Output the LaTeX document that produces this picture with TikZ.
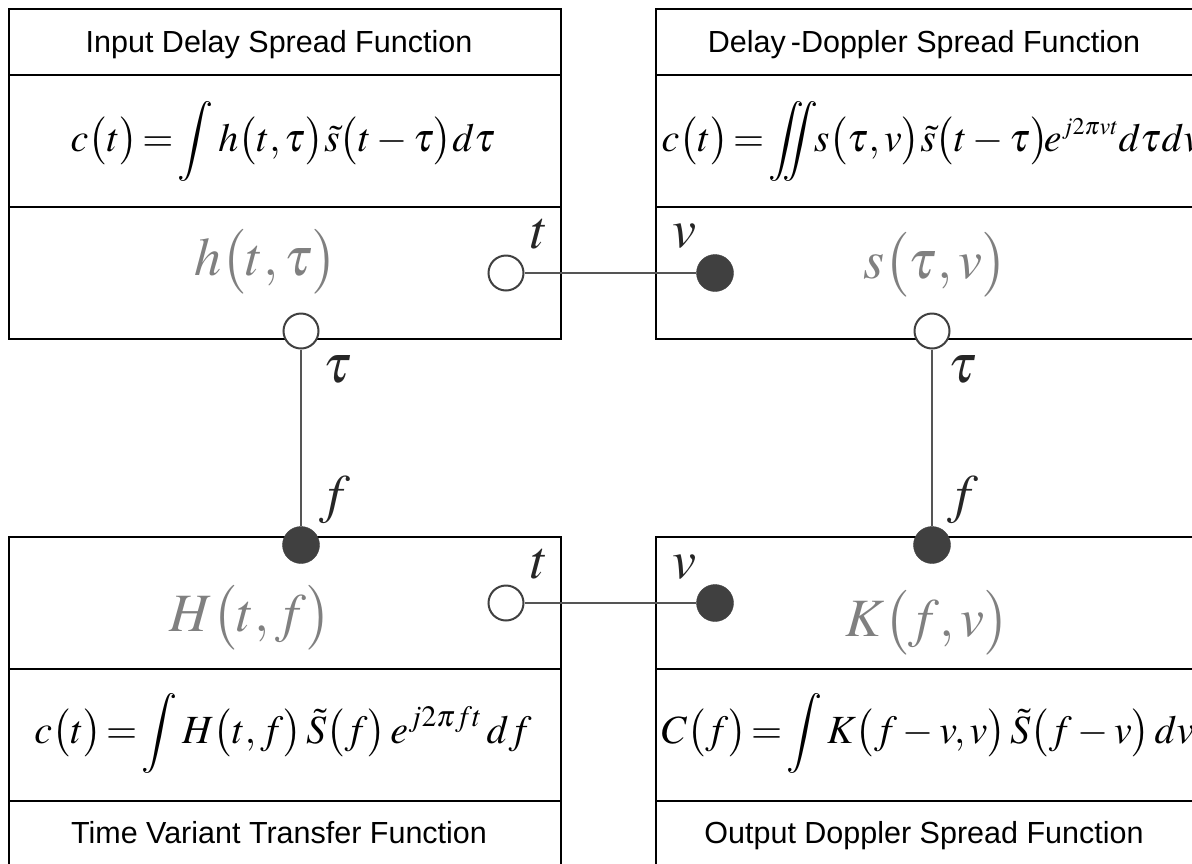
\documentclass[tikz,border=0pt]{standalone}
\usepackage{mathptmx}
\usepackage{amsmath}
\usepackage[no-math]{fontspec}
\setmainfont{Liberation Sans}

\definecolor{portgray}{HTML}{404040}
\definecolor{linkgray}{HTML}{555555}
\definecolor{labelgray}{HTML}{808080}

% tight equals sign as in the formulas
\newcommand{\eqs}{\mathrel{\!=\!}}

\begin{document}
\begin{tikzpicture}[x=1pt, y=-1pt,
  box/.style={draw=black, line width=2.2pt},
  openport/.style={circle, draw=portgray, line width=2pt, fill=white, minimum size=35pt, inner sep=0pt},
  fullport/.style={circle, draw=portgray, fill=portgray, minimum size=37pt, inner sep=0pt},
  link/.style={draw=linkgray, line width=2pt},
  title/.style={anchor=base, font=\fontsize{30.5}{36}\selectfont},
  formula/.style={font=\fontsize{40}{46}\selectfont},
  func/.style={text=labelgray, font=\fontsize{54}{62}\selectfont},
  var/.style={text=black!85, font=\fontsize{54}{62}\selectfont}]
\useasboundingbox (0,0) rectangle (1192,863);
\clip (0,0) rectangle (1192,863);
\fill [white] (0,0) rectangle (1192,863);

% box corners
\coordinate (A) at (9,9);
\coordinate (B) at (561,339);
\coordinate (C) at (656,9);
\coordinate (D) at (1208,339);
\coordinate (E) at (9,537);
\coordinate (F) at (561,880);
\coordinate (G) at (656,537);
\coordinate (H) at (1208,880);

\draw [box] (A) rectangle (B);
\draw [box] (9,75) -- (561,75);
\draw [box] (9,207) -- (561,207);
\draw [box] (C) rectangle (D);
\draw [box] (656,75) -- (1208,75);
\draw [box] (656,207) -- (1208,207);
\draw [box] (E) rectangle (F);
\draw [box] (9,669) -- (561,669);
\draw [box] (9,801) -- (561,801);
\draw [box] (G) rectangle (H);
\draw [box] (656,669) -- (1208,669);
\draw [box] (656,801) -- (1208,801);

% titles
\node [title] (inp) at (279,52) {Input Delay Spread Function};
\node [title] (dd) at (924,52) {Delay\,-Doppler Spread Function};
\node [title] (tv) at (279,843) {Time Variant Transfer Function};
\node [title] (outp) at (924,843) {Output Doppler Spread Function};

% formulas
\node [formula] (eqh) at (283,141)
  {$\displaystyle c\bigl(t\bigr)\eqs\int h\bigl(t,\tau\bigr)\tilde{s}\bigl(t-\tau\bigr)d\tau$};
\node [formula, anchor=west] (eqs) at (658,141)
  {$\displaystyle c\bigl(t\bigr)\eqs\int\!\!\!\!\!\!\int\!\! s\bigl(\tau,v\bigr)\tilde{s}\bigl(t-\tau\bigr)\!e^{\scriptscriptstyle j2\pi vt}d\tau dv$};
\node [formula] (eqH) at (283,733)
  {$\displaystyle c\bigl(t\bigr)\eqs\int H\bigl(t,f\bigr)\,\tilde{S}\bigl(f\bigr)\,e^{j2\pi ft}\,df$};
\node [formula, anchor=west] (eqK) at (658,733)
  {$\displaystyle C\bigl(f\bigr)\eqs\int K\bigl(f-v,v\bigr)\,\tilde{S}\bigl(f-v\bigr)\,dv$};

% functions
\node [func] (h) at (266,262) {$h\bigl(t,\tau\bigr)$};
\node [func] (s) at (935,265) {$s\bigl(\tau,v\bigr)$};
\node [func] (Hfun) at (250,618) {$H\bigl(t,f\bigr)$};
\node [func] (K) at (927,623) {$K\bigl(f,v\bigr)$};

% ports
\node [openport] (ht) at (506,273) {};
\node [fullport] (sv) at (715,273) {};
\node [openport] (htau) at (301,331) {};
\node [fullport] (Hf) at (301,545) {};
\node [openport] (stau) at (932,331) {};
\node [fullport] (Kf) at (932,545) {};
\node [openport] (Ht) at (506,603) {};
\node [fullport] (Kv) at (715,603) {};

\draw [link] (ht) -- (sv);
\draw [link] (Ht) -- (Kv);
\draw [link] (htau) -- (Hf);
\draw [link] (stau) -- (Kf);

% port labels
\node [var] at (540,234) {$t$};
\node [var] at (684,236) {$v$};
\node [var] at (338,370) {$\tau$};
\node [var] at (335,500) {$f$};
\node [var] at (963,370) {$\tau$};
\node [var] at (963,500) {$f$};
\node [var] at (540,564) {$t$};
\node [var] at (684,567) {$v$};

\end{tikzpicture}
\end{document}
